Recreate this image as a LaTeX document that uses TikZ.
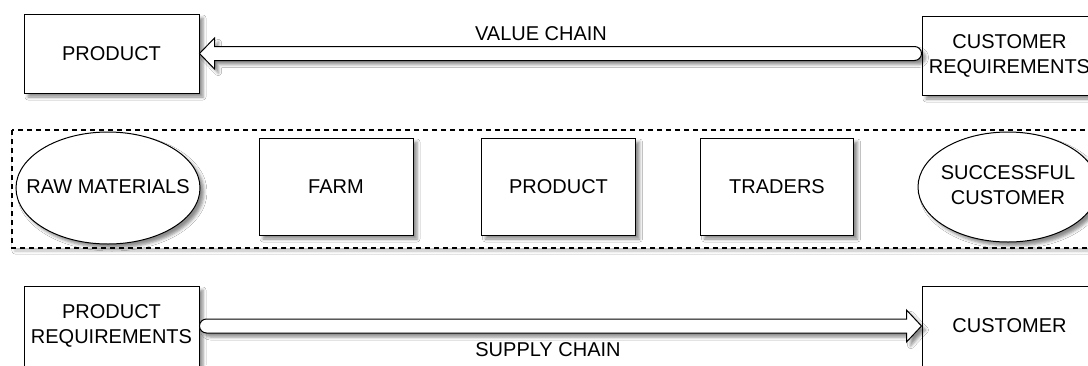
\documentclass[tikz,border=0pt]{standalone}
\usepackage{fontspec}
\setmainfont{Liberation Sans}
\usetikzlibrary{shapes.geometric,calc,shadows.blur}
\newcommand{\zerow}[1]{\makebox[0pt][c]{\begin{tabular}{@{}c@{}}#1\end{tabular}}}
\begin{document}
\begin{tikzpicture}[x=1pt,y=-1pt,
  shade/.style={blur shadow={shadow xshift=4pt,shadow yshift=-4pt,shadow blur radius=3pt,shadow opacity=45}},
  box/.style={draw=black,line width=1pt,fill=white,shade,inner sep=0pt,align=center,
    font=\fontsize{20pt}{25pt}\selectfont},
  oval/.style={ellipse,draw=black,line width=1pt,fill=white,shade,inner sep=0pt,
    font=\fontsize{20pt}{25pt}\selectfont},
  lbl/.style={inner sep=0pt,font=\fontsize{20pt}{25pt}\selectfont},
  bigarrow/.style={draw=black,line width=1pt,fill=white,line join=miter,shade},
  group/.style={draw=black,line width=1.5pt,dash pattern=on 5pt off 4pt,fill=white,
    blur shadow={shadow xshift=3pt,shadow yshift=-3pt,shadow blur radius=3pt,shadow opacity=25}}]
\useasboundingbox (0,0) rectangle (1088,365);
\fill[white] (0,0) rectangle (1088,365);

% dashed group
\draw[group] (12,130) rectangle (1110,248);

% top row
\node[box,minimum width=175pt,minimum height=79pt] (vp) at (111.5,53.5) {PRODUCT};
\node[box,minimum width=175pt,minimum height=79pt] (cr) at (1009.5,55.5) {CUSTOMER\\REQUIREMENTS};

% middle row
\node[oval,minimum width=184pt,minimum height=112pt] (raw) at (108,188) {\zerow{RAW MATERIALS}};
\node[box,minimum width=154pt,minimum height=97pt] (farm) at (336,186.5) {FARM};
\node[box,minimum width=154pt,minimum height=97pt] (mp) at (558.5,186.5) {PRODUCT};
\node[box,minimum width=153pt,minimum height=97pt] (tr) at (777,186.5) {TRADERS};
\node[oval,minimum width=180pt,minimum height=110pt] (sc) at (1008,187) {\zerow{SUCCESSFUL\\CUSTOMER}};

% bottom row
\node[box,minimum width=175pt,minimum height=80pt] (pr) at (111.5,326) {PRODUCT\\REQUIREMENTS};
\node[box,minimum width=175pt,minimum height=80pt] (cust) at (1009.5,326) {CUSTOMER};

% value chain arrow (points left)
\draw[bigarrow] (vp.east) -- ++(15,-15.5) -- ++(0,8.5)
  -- ($(cr.west |- vp.east)+(-7,-7)$) arc[start angle=90,end angle=-90,radius=7pt]
  -- ($(vp.east)+(15,7)$) -- ++(0,8.5) -- cycle;
\node[lbl] (vc) at (541,34) {VALUE CHAIN};

% supply chain arrow (points right)
\draw[bigarrow] (cust.west) -- ++(-15,-16) -- ++(0,9)
  -- ($(pr.east |- cust.west)+(7,-7)$) arc[start angle=90,end angle=270,radius=7pt]
  -- ($(cust.west)+(-15,7)$) -- ++(0,9) -- cycle;
\node[lbl] (sch) at (548,349.5) {SUPPLY CHAIN};
\end{tikzpicture}
\end{document}
